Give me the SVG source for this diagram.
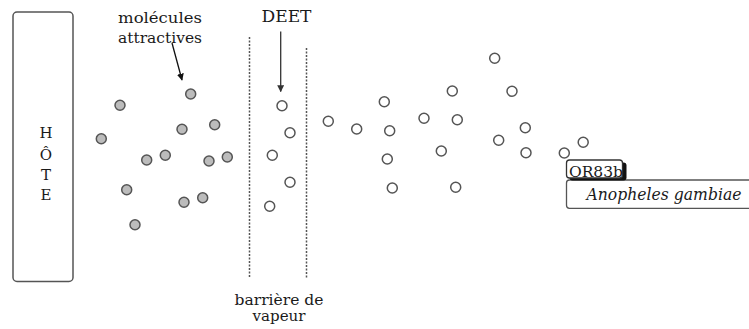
<svg xmlns="http://www.w3.org/2000/svg" width="749" height="329" viewBox="0 0 749 329">
<style>
text{font-family:"DejaVu Serif","Liberation Serif",serif;fill:#1a1a1a}
.g{fill:#bcbcbc;stroke:#555;stroke-width:1.5}
.w{fill:#fff;stroke:#555;stroke-width:1.5}
.dash{stroke:#555;stroke-width:1.5;stroke-dasharray:2 1.5;fill:none}
.arr{stroke-width:1.3;fill:none}
</style>
<defs>
<marker id="ah" viewBox="0 0 10 10" refX="9" refY="5" markerWidth="7" markerHeight="7" orient="auto" markerUnits="userSpaceOnUse"><path d="M0,0 L10,5 L0,10 z" fill="#111"/></marker>
<marker id="ah2" viewBox="0 0 10 10" refX="9" refY="5" markerWidth="7" markerHeight="7" orient="auto" markerUnits="userSpaceOnUse"><path d="M0,0 L10,5 L0,10 z" fill="#333"/></marker>
</defs>
<g id="host">
<rect x="13" y="12" width="60" height="269.5" rx="4" fill="#fff" stroke="#555" stroke-width="1.5"/>
<text x="46" y="138" font-size="15" text-anchor="middle">H</text>
<text x="46" y="159.5" font-size="15" text-anchor="middle">Ô</text>
<text x="46" y="180" font-size="15" text-anchor="middle">T</text>
<text x="46" y="200" font-size="15" text-anchor="middle">E</text>
</g>
<g id="label-molecules">
<text x="160" y="22.5" font-size="15" text-anchor="middle" textLength="84" lengthAdjust="spacingAndGlyphs">molécules</text>
<text x="160" y="43" font-size="15" text-anchor="middle" textLength="84" lengthAdjust="spacingAndGlyphs">attractives</text>
</g>
<g id="label-deet">
<text x="286.5" y="21.5" font-size="16" text-anchor="middle" textLength="50" lengthAdjust="spacingAndGlyphs">DEET</text>
</g>
<g id="label-barrier">
<text x="279" y="304.5" font-size="15" text-anchor="middle" textLength="89" lengthAdjust="spacingAndGlyphs">barrière de</text>
<text x="279" y="321" font-size="15" text-anchor="middle" textLength="53" lengthAdjust="spacingAndGlyphs">vapeur</text>
</g>
<g id="barrier">
<line class="dash" x1="249.5" y1="37" x2="249.5" y2="278"/>
<line class="dash" x1="306.5" y1="48" x2="306.5" y2="278"/>
</g>
<g id="connectors">
<line class="arr" x1="172" y1="43" x2="182" y2="80" stroke="#111" marker-end="url(#ah)"/>
<line class="arr" x1="280.7" y1="31.5" x2="280.7" y2="91.5" stroke="#333" marker-end="url(#ah2)"/>
</g>
<g id="attractive-molecules">
<circle class="g" cx="190.7" cy="94" r="5"/>
<circle class="g" cx="120" cy="105.3" r="5"/>
<circle class="g" cx="182" cy="129.3" r="5"/>
<circle class="g" cx="214.7" cy="124.7" r="5"/>
<circle class="g" cx="101.3" cy="138.7" r="5"/>
<circle class="g" cx="146.7" cy="160" r="5"/>
<circle class="g" cx="165.3" cy="155.3" r="5"/>
<circle class="g" cx="209" cy="161" r="5"/>
<circle class="g" cx="227.3" cy="157" r="5"/>
<circle class="g" cx="126.7" cy="189.7" r="5"/>
<circle class="g" cx="184" cy="202.3" r="5"/>
<circle class="g" cx="202.7" cy="197.7" r="5"/>
<circle class="g" cx="135" cy="224.7" r="5"/>
</g>
<g id="deet-molecules">
<circle class="w" cx="282" cy="105.7" r="5"/>
<circle class="w" cx="290" cy="132.7" r="5"/>
<circle class="w" cx="272.3" cy="155.3" r="5"/>
<circle class="w" cx="290" cy="182.3" r="5"/>
<circle class="w" cx="269.7" cy="206.3" r="5"/>
<circle class="w" cx="328.3" cy="121.3" r="5"/>
<circle class="w" cx="356.7" cy="129" r="5"/>
<circle class="w" cx="384.3" cy="101.7" r="5"/>
<circle class="w" cx="389.7" cy="130.7" r="5"/>
<circle class="w" cx="387.3" cy="159" r="5"/>
<circle class="w" cx="392.3" cy="188" r="5"/>
<circle class="w" cx="424" cy="118.3" r="5"/>
<circle class="w" cx="441.3" cy="151" r="5"/>
<circle class="w" cx="494.7" cy="58.3" r="5"/>
<circle class="w" cx="452.3" cy="91" r="5"/>
<circle class="w" cx="512" cy="91.3" r="5"/>
<circle class="w" cx="457.3" cy="119.7" r="5"/>
<circle class="w" cx="525.3" cy="127.7" r="5"/>
<circle class="w" cx="498.7" cy="140.3" r="5"/>
<circle class="w" cx="526" cy="152.7" r="5"/>
<circle class="w" cx="564.3" cy="153" r="5"/>
<circle class="w" cx="583.2" cy="142.3" r="5"/>
<circle class="w" cx="455.7" cy="187.3" r="5"/>
</g>
<g id="anopheles">
<rect x="566.5" y="180" width="200" height="28.3" rx="3" fill="#fff" stroke="#555" stroke-width="1.3"/>
<text x="664" y="200" font-size="16" font-style="italic" text-anchor="middle" textLength="155" lengthAdjust="spacingAndGlyphs">Anopheles gambiae</text>
</g>
<g id="or83b">
<rect x="569.5" y="162.5" width="57" height="18" rx="3" fill="#111"/>
<rect x="566.5" y="160" width="56" height="18" rx="3" fill="#fff" stroke="#333" stroke-width="1.3"/>
<text x="569" y="176.5" font-size="15" textLength="54" lengthAdjust="spacingAndGlyphs">OR83b</text>
</g>
</svg>
